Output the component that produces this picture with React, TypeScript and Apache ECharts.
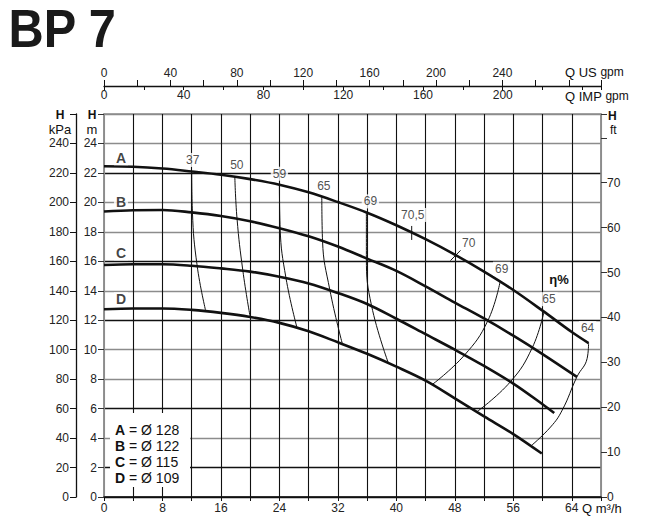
import React, { useEffect, useRef } from 'react';
import * as echarts from 'echarts';

const FONT = "'Liberation Sans', Arial, Helvetica, sans-serif";

// Pump curves: flow Q (m3/h) and head H (m)
const Q_A = [0, 4, 8, 12, 16, 20, 24, 28, 32, 36, 40, 44, 48, 52, 56, 60, 64, 66.3];
const H_A = [22.45, 22.42, 22.3, 22.1, 21.88, 21.58, 21.2, 20.68, 20.02, 19.3, 18.45, 17.5, 16.45, 15.3, 14.05, 12.65, 11.2, 10.45];
const Q_B = [0, 4, 8, 12, 16, 20, 24, 28, 32, 36, 40, 44, 48, 52, 56, 60, 64.7];
const H_B = [19.38, 19.47, 19.48, 19.32, 19.08, 18.72, 18.25, 17.7, 17.0, 16.18, 15.35, 14.3, 13.2, 12.12, 10.95, 9.7, 8.15];
const Q_C = [0, 4, 8, 12, 16, 20, 24, 28, 32, 36, 40, 44, 48, 52, 56, 60, 61.6];
const H_C = [15.75, 15.8, 15.8, 15.7, 15.52, 15.3, 14.95, 14.5, 13.85, 13.1, 12.1, 11.05, 10.0, 8.9, 7.7, 6.3, 5.7];
const Q_D = [0, 4, 8, 12, 16, 20, 24, 28, 32, 36, 40, 44, 48, 52, 56, 59.9];
const H_D = [12.75, 12.8, 12.8, 12.7, 12.5, 12.22, 11.82, 11.25, 10.5, 9.72, 8.85, 7.9, 6.7, 5.47, 4.27, 2.95];
const CURVE_NAMES = ['A', 'B', 'C', 'D'];
const CURVE_Q = [Q_A, Q_B, Q_C, Q_D];
const CURVE_H = [H_A, H_B, H_C, H_D];
const LEGEND_ITEMS = [['A', 'Ø 128'], ['B', 'Ø 122'], ['C', 'Ø 115'], ['D', 'Ø 109']];

// Iso-efficiency lines [Q, H]
const ISO_37 = [[12.0, 22.1], [12.1, 19.32], [12.75, 15.68], [13.9, 12.66]];
const ISO_50 = [[17.9, 21.74], [18.2, 18.9], [19.0, 15.36], [20.0, 12.22]];
const ISO_59 = [[24.0, 21.2], [24.1, 18.24], [24.9, 14.86], [26.4, 11.5]];
const ISO_65 = [[29.8, 20.4], [29.9, 17.38], [30.9, 14.06], [32.6, 10.42]];
const ISO_69 = [[35.9, 19.32], [35.9, 16.2], [36.6, 13.0], [38.9, 9.1]];
const TICK_705 = [[42.1, 18.4], [42.1, 17.45]];
const TICK_70 = [[47.4, 16.05], [48.8, 16.75]];
const ISO_69R = [[54.2, 14.62], [52.5, 11.95], [49.3, 9.62], [44.9, 7.63]];
const ISO_65R = [[60.2, 12.58], [58.6, 10.14], [55.6, 7.82], [51.0, 5.78]];
const ISO_64 = [[66.3, 10.45], [66.1, 9.4], [64.7, 8.15], [62.7, 5.9], [61.1, 4.75], [58.4, 3.46]];

const ISO_LINES = [ISO_37, ISO_50, ISO_59, ISO_65, ISO_69, TICK_705, TICK_70, ISO_69R, ISO_65R, ISO_64];
const ISO_LABELS = ['37', '50', '59', '65', '69', '70,5', '70', '69', '65', '64'];
const ISO_SMOOTH = [true, true, true, true, true, false, false, true, true, true];
const ISO_ANCHOR = [0, 0, 0, 0, 0, 0, 1, 0, 0, 0];
const ISO_LABEL_OFFSETS = [[1, -11.5], [2, -12], [0, -11], [2, -10.5], [4, -11], [1, -11], [8, -7], [1.5, -13], [5, -12.5], [-1, -15]];
const CURVE_LABEL_OFFSETS = [[17, -8], [17, -10], [17, -11.7], [17, -10]];

// Axes
const Q_MAX = 68;
const H_MAX = 26;
const KPA_PER_M = 10;
const FT_PER_M = 1 / 0.3048;
const USGPM_PER_M3H = 4.40287;
const IMPGPM_PER_M3H = 3.66615;

const K = '#111';
const G = '#8c8c8c';
const H_GRID_COLORS = [K, K, G, K, G, G, K, G, K, G, G, K, G, G];
const Q_GRID_COLORS = [G, K, K, K, K, K, K, K, K, K, K, K, K, K, K, K, K, G];

const lbl = { fontSize: 12, color: '#222', fontFamily: FONT };

function buildOption() {
  const series: any[] = [];
  CURVE_NAMES.forEach((n, i) => {
    series.push({
      type: 'line',
      name: n,
      data: CURVE_Q[i].map((q, j) => [q, CURVE_H[i][j]]),
      smooth: 0.35,
      symbol: 'none',
      lineStyle: { color: K, width: 2.6 },
      z: 3,
      silent: true,
    });
  });
  ISO_LINES.forEach((pts, i) => {
    series.push({
      type: 'line',
      data: pts,
      smooth: ISO_SMOOTH[i] ? 0.45 : false,
      symbol: 'none',
      lineStyle: { color: K, width: 1 },
      z: 3,
      silent: true,
    });
  });
  series.push({
    type: 'scatter',
    symbolSize: 1,
    itemStyle: { color: 'rgba(0,0,0,0)' },
    z: 6,
    silent: true,
    label: {
      show: true,
      position: 'inside',
      ...lbl,
      backgroundColor: '#fff',
      padding: [1, 2],
    },
    data: ISO_LINES.map((pts, i) => ({
      value: pts[ISO_ANCHOR[i]],
      label: { formatter: ISO_LABELS[i], offset: ISO_LABEL_OFFSETS[i] },
    })),
  });
  series.push({
    type: 'scatter',
    symbolSize: 1,
    itemStyle: { color: 'rgba(0,0,0,0)' },
    z: 6,
    silent: true,
    label: {
      show: true,
      position: 'inside',
      fontSize: 14,
      fontWeight: 'bold',
      color: '#111',
      fontFamily: FONT,
      backgroundColor: '#fff',
      padding: [0, 2],
    },
    data: CURVE_NAMES.map((n, i) => ({
      value: [CURVE_Q[i][0], CURVE_H[i][0]],
      label: { formatter: n, offset: CURVE_LABEL_OFFSETS[i] },
    })),
  });

  const txt = (x: number, y: number, text: string, extra: any = {}) => ({
    type: 'text',
    x,
    y,
    z: 20,
    style: {
      text,
      fontSize: 13,
      fontFamily: FONT,
      fill: '#111',
      verticalAlign: 'middle',
      align: 'left',
      ...extra,
    },
  });

  const graphics: any[] = [
    {
      type: 'text',
      x: 8.5,
      y: 29,
      scaleX: 0.92,
      z: 20,
      style: {
        text: 'BP 7',
        fontSize: 53,
        fontWeight: 'bold',
        fontFamily: FONT,
        fill: '#1a1a1a',
        verticalAlign: 'middle',
      },
    },
    txt(565, 72, '{a|Q US} {b|gpm}', { rich: { a: { fontSize: 13, fontFamily: FONT }, b: { fontSize: 12, fontFamily: FONT } } }),
    txt(565, 96, '{a|Q IMP} {b|gpm}', { rich: { a: { fontSize: 13, fontFamily: FONT }, b: { fontSize: 12, fontFamily: FONT } } }),
    txt(60, 115, 'H', { align: 'center', fontWeight: 'bold', fontSize: 12 }),
    txt(60, 129, 'kPa', { align: 'center' }),
    txt(92, 115, 'H', { align: 'center', fontWeight: 'bold', fontSize: 12 }),
    txt(92, 129, 'm', { align: 'center' }),
    txt(608, 116, 'H', { fontWeight: 'bold', fontSize: 12 }),
    txt(610, 129.5, 'ft', { fontSize: 12 }),
    txt(582, 508, 'Q m³/h', { fontSize: 13 }),
    txt(559, 279, 'η%', { align: 'center', fontSize: 13, fontWeight: 'bold' }),
    {
      type: 'rect',
      z: 15,
      shape: { x: 110, y: 413, width: 80, height: 74 },
      style: { fill: '#fff' },
    },
  ];
  LEGEND_ITEMS.forEach(([k, v], i) => {
    graphics.push(
      txt(115, 429.5 + i * 16.1, `{b|${k}} = ${v}`, {
        fontSize: 14,
        rich: { b: { fontWeight: 'bold', fontSize: 14, fontFamily: FONT } },
      })
    );
  });

  return {
    animation: false,
    backgroundColor: '#fff',
    textStyle: { fontFamily: FONT },
    grid: { left: 104, right: 57, top: 114, bottom: 21, show: true, borderColor: G, borderWidth: 1.5, containLabel: false },
    xAxis: [
      {
        type: 'value',
        position: 'bottom',
        min: 0,
        max: Q_MAX,
        interval: 4,
        axisLine: { show: true, onZero: false, lineStyle: { color: K, width: 1.5 } },
        axisTick: { show: true, length: 4, lineStyle: { color: K } },
        axisLabel: { ...lbl, margin: 5, formatter: (v: number) => (v % 8 === 0 && v <= 64 ? String(v) : '') },
        splitLine: { show: true, lineStyle: { color: Q_GRID_COLORS, width: 1.1 } },
      },
      {
        type: 'value',
        position: 'top',
        offset: 28,
        min: 0,
        max: Q_MAX * USGPM_PER_M3H,
        interval: 20,
        axisLine: { show: true, onZero: false, lineStyle: { color: K, width: 1.3 } },
        axisTick: { show: true, length: 6, lineStyle: { color: K } },
        axisLabel: { ...lbl, margin: 7, formatter: (v: number) => (v % 40 === 0 && v <= 240 ? String(v) : '') },
        splitLine: { show: false },
      },
      {
        type: 'value',
        position: 'top',
        offset: 28,
        min: 0,
        max: Q_MAX * IMPGPM_PER_M3H,
        interval: 20,
        axisLine: { show: false, onZero: false },
        axisTick: { show: true, inside: true, length: 4, lineStyle: { color: K } },
        axisLabel: { ...lbl, inside: true, margin: 3, formatter: (v: number) => (v % 40 === 0 && v <= 200 ? String(v) : '') },
        splitLine: { show: false },
      },
    ],
    yAxis: [
      {
        type: 'value',
        position: 'left',
        min: 0,
        max: H_MAX,
        interval: 2,
        axisLine: { show: true, onZero: false, lineStyle: { color: G, width: 1.5 } },
        axisTick: { show: true, length: 6, lineStyle: { color: '#333' } },
        axisLabel: { ...lbl, margin: 7, formatter: (v: number) => (v <= 24 ? String(v) : '') },
        splitLine: { show: true, lineStyle: { color: H_GRID_COLORS, width: 1.3 } },
      },
      {
        type: 'value',
        position: 'left',
        offset: 28,
        min: 0,
        max: H_MAX * KPA_PER_M,
        interval: 20,
        axisLine: { show: true, onZero: false, lineStyle: { color: K, width: 1.3 } },
        axisTick: { show: true, length: 6, lineStyle: { color: K } },
        axisLabel: { ...lbl, margin: 7, formatter: (v: number) => (v <= 240 ? String(v) : '') },
        splitLine: { show: false },
      },
      {
        type: 'value',
        position: 'right',
        min: 0,
        max: H_MAX * FT_PER_M,
        interval: 10,
        axisLine: { show: true, onZero: false, lineStyle: { color: G, width: 1.5 } },
        axisTick: { show: true, length: 6, lineStyle: { color: '#333' } },
        axisLabel: { ...lbl, margin: 6, formatter: (v: number) => (v <= 70 ? String(v) : '') },
        splitLine: { show: false },
      },
    ],
    series,
    graphic: { elements: graphics },
  };
}

export default function App() {
  const ref = useRef<HTMLDivElement>(null);
  useEffect(() => {
    if (!ref.current) return;
    const chart = echarts.init(ref.current, undefined, { renderer: 'svg' });
    chart.setOption(buildOption() as any);
    return () => chart.dispose();
  }, []);
  return <div ref={ref} style={{ position: 'absolute', left: 0, top: 0, width: 658, height: 518 }} />;
}
